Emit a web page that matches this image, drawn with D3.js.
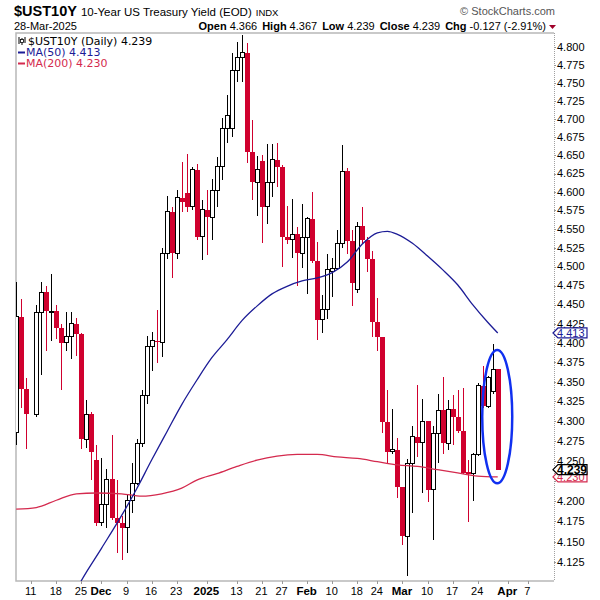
<!DOCTYPE html>
<html><head><meta charset="utf-8">
<script src="https://cdn.jsdelivr.net/npm/d3@7/dist/d3.min.js"></script>
<style>body{margin:0;background:#fff}</style>
</head><body>
<svg id="c" width="600" height="600"></svg>
<script>
// ---------- data ----------
const dates = [
"2024-11-06","2024-11-07","2024-11-08","2024-11-11","2024-11-12","2024-11-13","2024-11-14","2024-11-15",
"2024-11-18","2024-11-19","2024-11-20","2024-11-21","2024-11-22","2024-11-25","2024-11-26","2024-11-27","2024-11-29",
"2024-12-02","2024-12-03","2024-12-04","2024-12-05","2024-12-06","2024-12-09","2024-12-10","2024-12-11","2024-12-12","2024-12-13",
"2024-12-16","2024-12-17","2024-12-18","2024-12-19","2024-12-20","2024-12-23","2024-12-24","2024-12-26","2024-12-27","2024-12-30","2024-12-31",
"2025-01-02","2025-01-03","2025-01-06","2025-01-07","2025-01-08","2025-01-10","2025-01-13","2025-01-14","2025-01-15","2025-01-16","2025-01-17",
"2025-01-21","2025-01-22","2025-01-23","2025-01-24","2025-01-27","2025-01-28","2025-01-29","2025-01-30","2025-01-31",
"2025-02-03","2025-02-04","2025-02-05","2025-02-06","2025-02-07","2025-02-10","2025-02-11","2025-02-12","2025-02-13","2025-02-14",
"2025-02-18","2025-02-19","2025-02-20","2025-02-21","2025-02-24","2025-02-25","2025-02-26","2025-02-27","2025-02-28",
"2025-03-03","2025-03-04","2025-03-05","2025-03-06","2025-03-07","2025-03-10","2025-03-11","2025-03-12","2025-03-13","2025-03-14",
"2025-03-17","2025-03-18","2025-03-19","2025-03-20","2025-03-21","2025-03-24","2025-03-25","2025-03-26","2025-03-27","2025-03-28"];
const futureDates = ["2025-03-31","2025-04-01","2025-04-02","2025-04-03","2025-04-04","2025-04-07","2025-04-08","2025-04-09","2025-04-10","2025-04-11"];

const openV = [4.285,4.434,4.341,null,4.309,4.439,4.466,4.440,4.442,4.420,4.400,4.408,4.425,4.411,4.277,4.309,4.251,
4.173,4.196,4.227,4.179,4.173,4.167,4.201,4.222,4.272,4.332,4.395,4.403,4.401,4.518,4.573,4.518,4.592,4.599,4.580,4.630,4.540,
4.576,4.566,4.602,4.634,4.686,4.686,4.768,4.786,4.792,4.655,4.613,4.642,4.580,4.613,4.644,4.634,4.539,4.536,4.543,4.518,
4.539,4.564,4.508,4.430,4.444,4.494,4.497,4.531,4.628,4.534,4.470,4.554,4.536,4.510,4.427,4.408,4.299,4.262,4.264,
4.218,4.157,4.247,4.280,4.273,4.300,4.214,4.284,4.314,4.272,4.315,4.305,4.287,4.236,4.234,4.258,4.345,4.319,4.338,4.366];
const highV = [4.480,4.457,4.355,null,4.450,4.480,4.475,4.490,4.450,4.425,4.440,4.440,4.433,4.413,4.327,4.312,4.270,
4.254,4.240,4.282,4.226,4.181,4.209,4.247,4.277,4.340,4.409,4.414,4.443,4.525,4.595,4.580,4.603,4.641,4.652,4.634,4.638,4.589,
4.602,4.618,4.648,4.701,4.733,4.792,4.807,4.817,4.806,4.698,4.649,4.650,4.666,4.666,4.667,4.636,4.581,4.590,4.553,4.584,
4.566,4.600,4.533,4.462,4.517,4.512,4.549,4.664,4.632,4.549,4.560,4.579,4.540,4.521,4.459,4.408,4.340,4.315,4.279,
4.218,4.252,4.294,4.346,4.328,4.300,4.294,4.335,4.356,4.327,4.333,4.340,4.342,4.251,4.260,4.348,4.370,4.358,4.399,4.367];
const lowV = [4.270,4.317,4.265,null,4.305,4.359,4.389,4.402,4.405,4.340,4.389,4.379,4.383,4.265,4.266,4.226,4.169,
4.169,4.167,4.177,4.136,4.128,4.136,4.185,4.220,4.267,4.322,4.364,4.374,4.382,4.510,4.485,4.510,4.573,4.573,4.575,4.535,4.509,
4.515,4.535,4.579,4.616,4.667,4.675,4.751,4.751,4.639,4.589,4.567,4.531,4.557,4.593,4.607,4.500,4.530,4.512,4.474,4.498,
4.464,4.505,4.404,4.413,4.431,4.460,4.495,4.525,4.517,4.448,4.465,4.530,4.493,4.408,4.390,4.285,4.247,4.259,4.204,
4.146,4.108,4.185,4.255,4.210,4.199,4.152,4.247,4.259,4.264,4.270,4.285,4.233,4.174,4.200,4.256,4.316,4.316,4.335,4.239];
const closeV = [4.434,4.341,4.309,null,4.439,4.466,4.442,4.441,4.420,4.400,4.408,4.425,4.411,4.277,4.309,4.261,4.173,
4.196,4.227,4.179,4.173,4.167,4.201,4.222,4.272,4.332,4.395,4.403,4.401,4.518,4.573,4.518,4.592,4.586,4.580,4.630,4.540,4.576,
4.566,4.602,4.634,4.686,4.705,4.768,4.786,4.792,4.655,4.613,4.630,4.580,4.613,4.644,4.634,4.539,4.536,4.543,4.518,4.539,
4.564,4.508,4.430,4.444,4.496,4.497,4.531,4.628,4.534,4.478,4.554,4.536,4.510,4.427,4.408,4.299,4.261,4.264,4.218,
4.157,4.247,4.280,4.273,4.300,4.214,4.284,4.314,4.272,4.315,4.305,4.287,4.235,4.234,4.258,4.345,4.319,4.356,4.366,4.239];

const ma50Dates = ["2024-11-22","2024-11-25","2024-12-02","2024-12-06","2024-12-11","2024-12-16","2024-12-19","2024-12-24","2024-12-30",
"2025-01-03","2025-01-08","2025-01-14","2025-01-17","2025-01-23","2025-01-28","2025-01-31","2025-02-05","2025-02-10","2025-02-13",
"2025-02-19","2025-02-24","2025-02-26","2025-02-28","2025-03-05","2025-03-10","2025-03-13","2025-03-18","2025-03-21","2025-03-26","2025-03-28"];
const ma50Values = [4.092,4.103,4.142,4.182,4.215,4.251,4.286,4.321,4.352,4.381,4.404,4.429,4.448,4.464,4.474,4.481,4.485,4.492,4.506,
4.530,4.545,4.547,4.543,4.531,4.514,4.496,4.476,4.450,4.427,4.413];
const ma200Dates = ["2024-11-06","2024-11-12","2024-11-18","2024-11-22","2024-11-29","2024-12-06","2024-12-12","2024-12-18","2024-12-24",
"2024-12-30","2025-01-06","2025-01-13","2025-01-17","2025-01-24","2025-01-30","2025-02-05","2025-02-11","2025-02-18","2025-02-24",
"2025-02-28","2025-03-06","2025-03-12","2025-03-18","2025-03-24","2025-03-28"];
const ma200Values = [4.190,4.192,4.201,4.209,4.210,4.209,4.206,4.209,4.216,4.226,4.234,4.243,4.251,4.256,4.258,4.258,4.255,4.253,4.249,
4.245,4.243,4.239,4.235,4.231,4.230];

const yTickValues = d3.range(0, 28).map(i => +(4.125 + i * 0.025).toFixed(3));
const xTickDates = ["2024-11-11","2024-11-18","2024-11-25","2024-12-02","2024-12-09","2024-12-16","2024-12-23","2025-01-02","2025-01-13",
"2025-01-21","2025-01-27","2025-02-03","2025-02-10","2025-02-18","2025-02-24","2025-03-03","2025-03-10","2025-03-17","2025-03-24","2025-04-01","2025-04-07"];
const xTickLabels = ["11","18","25","Dec","9","16","23","2025","13","21","27","Feb","10","18","24","Mar","10","17","24","Apr","7"];
const xTickBold = ["Dec","2025","Feb","Mar","Apr"];
const circledDates = ["2025-03-27","2025-03-28"];
const circledRange = [4.222, 4.391];

// ---------- layout ----------
const svg = d3.select("#c");
const plot = {l: 16, r: 554, t: 33, b: 581};
const allDates = dates.concat(futureDates);
const x = d3.scalePoint().domain(allDates).range([16.2, 16.2 + (allDates.length - 1) * 5.016]);
const y = d3.scaleLog().domain([4.125, 4.8]).range([562.3, 47.3]);
const RED = "#d0002e", NAVY = "#1c1c96", MARED = "#d42a4e";
const F = "'Liberation Sans', Arial, sans-serif";

svg.append("defs").append("clipPath").attr("id", "clip")
  .append("rect").attr("x", plot.l).attr("y", plot.t).attr("width", plot.r - plot.l).attr("height", plot.b - plot.t);

// frame
svg.append("path").attr("d", `M${plot.r},${plot.t}H${plot.l}V${plot.b}H${plot.r}`)
  .attr("fill", "none").attr("stroke", "#b8b8b8").attr("stroke-width", 1.5);
svg.append("line").attr("x1", plot.r + 0.5).attr("x2", plot.r + 0.5).attr("y1", plot.t).attr("y2", plot.b)
  .attr("stroke", "#a0a0a0").attr("stroke-dasharray", "1,1");

const g = svg.append("g").attr("clip-path", "url(#clip)");

// candles
const candles = dates.map((d, i) => ({d, o: openV[i], h: highV[i], l: lowV[i], c: closeV[i]})).filter(c => c.o != null);
const cg = g.append("g").attr("shape-rendering", "crispEdges");
candles.forEach(c => {
  const up = c.c >= c.o;
  const col = up ? "#000" : RED;
  const xc = Math.round(x(c.d)) + 0.5;
  cg.append("line").attr("x1", xc).attr("x2", xc).attr("y1", y(c.h)).attr("y2", y(c.l)).attr("stroke", col).attr("stroke-width", 1);
  const top = y(Math.max(c.o, c.c)), bot = y(Math.min(c.o, c.c));
  const hgt = Math.max(1, bot - top);
  if (up) {
    cg.append("rect").attr("x", xc - 2).attr("width", 4).attr("y", top).attr("height", hgt)
      .attr("fill", "#fff").attr("stroke", "#000").attr("stroke-width", 1);
  } else {
    cg.append("rect").attr("x", xc - 2.5).attr("width", 5).attr("y", top).attr("height", hgt).attr("fill", RED);
  }
});

// moving averages
const line = d3.line().x(d => x(d[0])).y(d => y(d[1])).curve(d3.curveMonotoneX);
g.append("path").datum(ma200Dates.map((d, i) => [d, ma200Values[i]])).attr("d", line)
  .attr("fill", "none").attr("stroke", MARED).attr("stroke-width", 1.3);
g.append("path").datum(ma50Dates.map((d, i) => [d, ma50Values[i]])).attr("d", line)
  .attr("fill", "none").attr("stroke", NAVY).attr("stroke-width", 1.3);

// annotation ellipse
const ex = (x(circledDates[0]) + x(circledDates[1])) / 2 + 2;
const ey1 = y(circledRange[1]), ey2 = y(circledRange[0]);
svg.append("ellipse").attr("cx", ex).attr("cy", (ey1 + ey2) / 2).attr("rx", 15).attr("ry", (ey2 - ey1) / 2)
  .attr("fill", "none").attr("stroke", "#1030f0").attr("stroke-width", 2.5);

// price tags (values)
const tags = [
  {v: ma50Values[ma50Values.length - 1], col: NAVY, bold: false},
  {v: ma200Values[ma200Values.length - 1], col: MARED, bold: false},
  {v: closeV[closeV.length - 1], col: "#000", bold: true}
];

// y axis labels (labels fully hidden under a tag are not drawn, as in the reference)
const ya = svg.append("g").attr("font-family", F).attr("font-size", 11);
yTickValues.forEach(v => {
  ya.append("line").attr("x1", plot.r).attr("x2", plot.r + 2).attr("y1", Math.round(y(v)) + 0.5).attr("y2", Math.round(y(v)) + 0.5).attr("stroke", "#999");
  const hidden = tags.some(t => Math.abs(y(t.v) - y(v)) < 5);
  if (!hidden) ya.append("text").attr("x", 557).attr("y", y(v)).attr("dy", "0.35em").text(v.toFixed(3));
});

function tag(t) {
  const yy = y(t.v);
  const gg = svg.append("g");
  gg.append("path").attr("d", `M${plot.r - 1},${yy} L${plot.r + 4},${yy - 5} H587 V${yy + 5} H${plot.r + 4} Z`)
    .attr("fill", "#fff").attr("stroke", t.col).attr("stroke-width", 1.2);
  gg.append("text").attr("x", 557).attr("y", yy).attr("dy", "0.36em").attr("font-family", F)
    .attr("font-size", t.bold ? 12 : 11).attr("font-weight", t.bold ? "bold" : "normal").attr("fill", t.col).text(t.v.toFixed(3));
}
tags.forEach(tag);

// x axis
const xa = svg.append("g").attr("font-family", F).attr("font-size", 11).attr("text-anchor", "middle");
xTickDates.forEach((d, i) => {
  const xx = Math.round(x(d)) + 0.5;
  xa.append("line").attr("x1", xx).attr("x2", xx).attr("y1", plot.b).attr("y2", plot.b + 3).attr("stroke", "#999");
  const b = xTickBold.includes(xTickLabels[i]);
  xa.append("text").attr("x", x(d) - 0.5).attr("y", 595).attr("font-weight", b ? "bold" : "normal")
    .attr("font-size", b ? 11.5 : 11).text(xTickLabels[i]);
});

// header
const h = svg.append("g").attr("font-family", F);
const t1 = h.append("text").attr("x", 14).attr("y", 16);
t1.append("tspan").attr("font-weight", "bold").attr("font-size", 14.5).text("$UST10Y");
t1.append("tspan").attr("font-size", 11.5).attr("dx", 4).text("10-Year US Treasury Yield (EOD)");
t1.append("tspan").attr("font-size", 9.5).attr("dx", 4).text("INDX");
h.append("text").attr("x", 555).attr("y", 15).attr("text-anchor", "end").attr("font-size", 11).attr("fill", "#555").text("© StockCharts.com");
h.append("text").attr("x", 14).attr("y", 30).attr("font-size", 11).text("28-Mar-2025");
const last = closeV.length - 1;
const chg = closeV[last] - closeV[last - 1];
const t2 = h.append("text").attr("x", 546).attr("y", 30).attr("text-anchor", "end").attr("font-size", 11);
[["Open", openV[last].toFixed(3)], ["High", highV[last].toFixed(3)], ["Low", lowV[last].toFixed(3)], ["Close", closeV[last].toFixed(3)],
 ["Chg", chg.toFixed(3) + " (" + (chg / closeV[last - 1] * 100).toFixed(2) + "%)"]].forEach((p, i) => {
  t2.append("tspan").attr("font-weight", "bold").attr("dx", i ? 5 : 0).text(p[0]);
  t2.append("tspan").attr("dx", 3).text(p[1]);
});
h.append("path").attr("d", "M549,25 L556,25 L552.5,29 Z").attr("fill", "#a0002a");

// legend
const lg = svg.append("g").attr("font-family", "'DejaVu Sans', Verdana, sans-serif").attr("font-size", 11);
lg.append("rect").attr("x", 17).attr("y", 34).attr("width", 150).attr("height", 34).attr("fill", "#fff");
[[19, 37, 44], [22, 38, 45], [25, 37, 43]].forEach(p => {
  lg.append("line").attr("x1", p[0]).attr("x2", p[0]).attr("y1", p[1]).attr("y2", p[2]).attr("stroke", "#000");
});
lg.append("rect").attr("x", 20.5).attr("y", 39.5).attr("width", 3).attr("height", 3).attr("fill", "#fff").attr("stroke", "#000").attr("stroke-width", 0.8);
lg.append("text").attr("x", 28).attr("y", 45).text("$UST10Y (Daily) " + closeV[last].toFixed(3));
lg.append("line").attr("x1", 18).attr("x2", 25).attr("y1", 52.5).attr("y2", 52.5).attr("stroke", NAVY).attr("stroke-width", 2);
lg.append("text").attr("x", 26).attr("y", 56).attr("fill", NAVY).text("MA(50) " + ma50Values[ma50Values.length - 1].toFixed(3));
lg.append("line").attr("x1", 18).attr("x2", 25).attr("y1", 63.5).attr("y2", 63.5).attr("stroke", MARED).attr("stroke-width", 2);
lg.append("text").attr("x", 26).attr("y", 67).attr("fill", MARED).text("MA(200) " + ma200Values[ma200Values.length - 1].toFixed(3));
</script>
</body></html>
